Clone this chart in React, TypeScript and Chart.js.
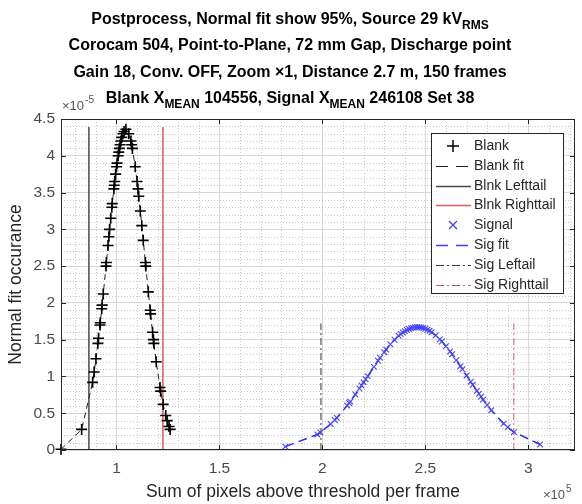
import React, { useEffect, useRef } from "react";
import { Chart, registerables } from "chart.js";

Chart.register(...registerables);

// ---- Data (x in units of 1e5 pixels, y in units of 1e-5) ----
const blankX = [
  0.7305, 0.8308, 0.884, 0.8915, 0.9003, 0.9097, 0.9126, 0.9199, 0.9212, 0.9283,
  0.9302, 0.9357, 0.9491, 0.9508, 0.9588, 0.963, 0.9665, 0.9719, 0.9774, 0.9793,
  0.9871, 0.9892, 0.9913, 0.9956, 1.0003, 1.0027, 1.008, 1.0109, 1.014, 1.0175,
  1.0213, 1.0258, 1.0317, 1.0368, 1.0456, 1.0595, 1.0699, 1.0737, 1.0772, 1.0909,
  1.0999, 1.1041, 1.108, 1.1156, 1.1229, 1.1299, 1.1404, 1.1421, 1.1545, 1.1636,
  1.1655, 1.1753, 1.1794, 1.1815, 1.1928, 1.2113, 1.2144, 1.2266, 1.2391, 1.2459,
  1.2551, 1.2604,
];
const blankY = [
  0.01, 0.28, 0.92, 1.06, 1.24, 1.45, 1.52, 1.7, 1.73, 1.92,
  1.97, 2.12, 2.5, 2.55, 2.78, 2.9, 3.0, 3.15, 3.3, 3.35,
  3.55, 3.6, 3.65, 3.75, 3.85, 3.9, 4.0, 4.05, 4.1, 4.15,
  4.2, 4.25, 4.3, 4.33, 4.36, 4.3, 4.2, 4.15, 4.1, 3.85,
  3.65, 3.55, 3.45, 3.25, 3.05, 2.85, 2.55, 2.5, 2.15, 1.9,
  1.85, 1.6, 1.5, 1.45, 1.2, 0.85, 0.8, 0.62, 0.47, 0.4,
  0.32, 0.28,
];
const signalX = [
  1.82, 1.975, 1.99, 2.04, 2.06, 2.07, 2.12, 2.13, 2.135, 2.16,
  2.18, 2.19, 2.2, 2.21, 2.22, 2.25, 2.27, 2.28, 2.3, 2.31,
  2.33, 2.35, 2.37, 2.38, 2.39, 2.4, 2.41, 2.42, 2.43, 2.44,
  2.45, 2.46, 2.47, 2.48, 2.49, 2.5, 2.51, 2.52, 2.53, 2.55,
  2.57, 2.58, 2.6, 2.62, 2.63, 2.65, 2.67, 2.68, 2.7, 2.72,
  2.73, 2.75, 2.76, 2.77, 2.78, 2.8, 2.82, 2.88, 2.9, 2.93,
  3.057,
];
const signalY = [
  0.046, 0.211, 0.239, 0.353, 0.408, 0.437, 0.603, 0.639, 0.658, 0.755,
  0.836, 0.877, 0.919, 0.961, 1.004, 1.13, 1.213, 1.253, 1.33, 1.367,
  1.437, 1.499, 1.553, 1.577, 1.598, 1.616, 1.632, 1.646, 1.656, 1.664,
  1.668, 1.67, 1.669, 1.665, 1.658, 1.648, 1.635, 1.62, 1.602, 1.558,
  1.505, 1.475, 1.41, 1.339, 1.301, 1.222, 1.139, 1.098, 1.013, 0.928,
  0.886, 0.804, 0.764, 0.724, 0.685, 0.611, 0.54, 0.359, 0.309, 0.243,
  0.075,
];
const blankTails = [0.866, 1.2253];
const blankTailTop = 4.39;
const sigTails = [1.9929, 2.9293];
const sigTailTop = 1.72;

const xRange = [0.7305, 3.226];
const yRange = [0, 4.5];
const xTicks = [1, 1.5, 2, 2.5, 3];
const yTicks = [0, 0.5, 1, 1.5, 2, 2.5, 3, 3.5, 4, 4.5];

const legendLabels = [
  "Blank", "Blank fit", "Blnk Lefttail", "Blnk Righttail",
  "Signal", "Sig fit", "Sig Leftail", "Sig Righttail",
];

const titleLines: { t: string; sub?: boolean }[][] = [
  [{ t: "Postprocess, Normal fit show 95%, Source 29 kV" }, { t: "RMS", sub: true }],
  [{ t: "Corocam 504, Point-to-Plane, 72 mm Gap, Discharge point" }],
  [{ t: "Gain 18, Conv. OFF, Zoom \u00d71, Distance 2.7 m, 150 frames" }],
  [
    { t: "Blank X" }, { t: "MEAN", sub: true }, { t: " 104556, Signal X" },
    { t: "MEAN", sub: true }, { t: " 246108 Set 38" },
  ],
];
const xLabel = "Sum of pixels above threshold per frame";
const yLabel = "Normal fit occurance";

const FONT = "'Liberation Sans', Arial, Helvetica, sans-serif";
const AXIS = "#262626";

const pts = (xs: number[], ys: number[]) => xs.map((x, i) => ({ x, y: ys[i] }));
const vline = (x: number, top: number) => [{ x, y: 0 }, { x, y: top }];

// legend sample styles
const legendStyles = [
  { kind: "plus", color: "#000000", dash: [] as number[], width: 1.5 },
  { kind: "line", color: "#222222", dash: [12, 8], width: 1.2 },
  { kind: "line", color: "#4a4a4a", dash: [], width: 1.5 },
  { kind: "line", color: "#e0585c", dash: [], width: 1.5 },
  { kind: "x", color: "#3c3cf0", dash: [], width: 1.2 },
  { kind: "line", color: "#3c3cf0", dash: [12, 8], width: 1.5 },
  { kind: "line", color: "#333333", dash: [8, 3, 2, 3], width: 1.2 },
  { kind: "line", color: "#d0606a", dash: [8, 3, 2, 3], width: 1.2 },
];

const decor = {
  id: "decor",
  beforeDatasetsDraw(chart: any) {
    const { ctx, chartArea: a, scales } = chart;
    const xs = scales.x, ys = scales.y;
    ctx.save();
    ctx.beginPath();
    ctx.rect(a.left, a.top, a.right - a.left, a.bottom - a.top);
    ctx.clip();
    ctx.strokeStyle = "#c8c8c8";
    ctx.lineWidth = 1;
    ctx.setLineDash([1, 2]);
    for (let k = Math.ceil(xRange[0] * 10); k <= Math.floor(xRange[1] * 10); k++) {
      if (k % 5 === 0) continue;
      const px = Math.round(xs.getPixelForValue(k / 10)) + 0.5;
      ctx.beginPath(); ctx.moveTo(px, a.top); ctx.lineTo(px, a.bottom); ctx.stroke();
    }
    for (let k = 1; k < 45; k++) {
      if (k % 5 === 0) continue;
      const py = Math.round(ys.getPixelForValue(k / 10)) + 0.5;
      ctx.beginPath(); ctx.moveTo(a.left, py); ctx.lineTo(a.right, py); ctx.stroke();
    }
    ctx.restore();
  },
  afterDraw(chart: any) {
    const { ctx, chartArea: a, scales } = chart;
    const xs = scales.x, ys = scales.y;
    ctx.save();
    // axes box
    ctx.strokeStyle = AXIS;
    ctx.lineWidth = 1;
    ctx.setLineDash([]);
    ctx.strokeRect(Math.round(a.left) + 0.5, Math.round(a.top) + 0.5,
      Math.round(a.right - a.left) - 1, Math.round(a.bottom - a.top) - 1);
    // inward ticks
    const tl = 5;
    ctx.beginPath();
    xTicks.forEach((v) => {
      const px = Math.round(xs.getPixelForValue(v)) + 0.5;
      ctx.moveTo(px, a.bottom); ctx.lineTo(px, a.bottom - tl);
      ctx.moveTo(px, a.top); ctx.lineTo(px, a.top + tl);
    });
    yTicks.forEach((v) => {
      const py = Math.round(ys.getPixelForValue(v)) + 0.5;
      ctx.moveTo(a.left, py); ctx.lineTo(a.left + tl, py);
      ctx.moveTo(a.right, py); ctx.lineTo(a.right - tl, py);
    });
    ctx.stroke();

    // legend
    const lx = 431, ly = 133, lw = 132, lh = 160;
    ctx.fillStyle = "#ffffff";
    ctx.fillRect(lx, ly, lw, lh);
    ctx.strokeStyle = AXIS;
    ctx.strokeRect(lx + 0.5, ly + 0.5, lw, lh);
    ctx.font = `14px ${FONT}`;
    ctx.textBaseline = "middle";
    ctx.textAlign = "left";
    legendLabels.forEach((lab, i) => {
      const cy = Math.round(ly + 13 + i * 19.8);
      const st = legendStyles[i];
      ctx.strokeStyle = st.color;
      ctx.lineWidth = st.width;
      if (st.kind === "plus") {
        ctx.setLineDash([]);
        ctx.beginPath();
        ctx.moveTo(447, cy); ctx.lineTo(459, cy);
        ctx.moveTo(453, cy - 6); ctx.lineTo(453, cy + 6);
        ctx.stroke();
      } else if (st.kind === "x") {
        ctx.setLineDash([]);
        ctx.beginPath();
        ctx.moveTo(449, cy - 4); ctx.lineTo(457, cy + 4);
        ctx.moveTo(457, cy - 4); ctx.lineTo(449, cy + 4);
        ctx.stroke();
      } else {
        ctx.setLineDash(st.dash);
        ctx.beginPath();
        ctx.moveTo(436, cy + 0.5); ctx.lineTo(471, cy + 0.5);
        ctx.stroke();
      }
      ctx.setLineDash([]);
      ctx.fillStyle = AXIS;
      ctx.fillText(lab, 474, cy);
    });

    // title
    ctx.fillStyle = "#000000";
    ctx.textBaseline = "alphabetic";
    const mainF = `bold 16px ${FONT}`, subF = `bold 12px ${FONT}`;
    const cx = 290;
    titleLines.forEach((segs, i) => {
      const base = 24 + i * 26.3;
      let w = 0;
      segs.forEach((s) => { ctx.font = s.sub ? subF : mainF; w += ctx.measureText(s.t).width; });
      let x = cx - w / 2;
      segs.forEach((s) => {
        ctx.font = s.sub ? subF : mainF;
        ctx.fillText(s.t, x, s.sub ? base + 5 : base);
        x += ctx.measureText(s.t).width;
      });
    });

    // exponent labels
    ctx.fillStyle = "#555555";
    ctx.font = `13px ${FONT}`;
    ctx.fillText("\u00d710", 62, 110);
    let ew = ctx.measureText("\u00d710").width;
    ctx.font = `10px ${FONT}`;
    ctx.fillText("-5", 62 + ew + 1, 103);
    ctx.font = `13px ${FONT}`;
    ctx.fillText("\u00d710", 543, 499);
    ew = ctx.measureText("\u00d710").width;
    ctx.font = `10px ${FONT}`;
    ctx.fillText("5", 543 + ew + 1, 492);

    // axis titles
    ctx.fillStyle = AXIS;
    ctx.font = `17.5px ${FONT}`;
    ctx.textAlign = "center";
    ctx.textBaseline = "middle";
    ctx.fillText(xLabel, 303, 492);
    ctx.save();
    ctx.translate(16, (a.top + a.bottom) / 2);
    ctx.rotate(-Math.PI / 2);
    ctx.fillText(yLabel, 0, 0);
    ctx.restore();
    ctx.restore();
  },
};

export default function App() {
  const ref = useRef<HTMLCanvasElement>(null);
  useEffect(() => {
    document.body.style.margin = "0";
    const canvas = ref.current!;
    const chart = new Chart(canvas, {
      type: "scatter",
      data: {
        datasets: [
          {
            label: legendLabels[0], data: pts(blankX, blankY), showLine: false,
            pointStyle: "cross", pointRadius: 5.5, borderColor: "#000000", borderWidth: 1.6,
            backgroundColor: "#000000", clip: false as any,
          },
          {
            label: legendLabels[1], data: pts(blankX, blankY), showLine: true,
            pointRadius: 0, borderColor: "#222222", borderWidth: 1, borderDash: [6, 4],
          },
          {
            label: legendLabels[2], data: vline(blankTails[0], blankTailTop), showLine: true,
            pointRadius: 0, borderColor: "#4a4a4a", borderWidth: 1.5,
          },
          {
            label: legendLabels[3], data: vline(blankTails[1], blankTailTop), showLine: true,
            pointRadius: 0, borderColor: "#e0585c", borderWidth: 1.5,
          },
          {
            label: legendLabels[4], data: pts(signalX, signalY), showLine: false,
            pointStyle: "crossRot", pointRadius: 4, borderColor: "#4545f5", borderWidth: 1.1,
            backgroundColor: "#4545f5", clip: false as any,
          },
          {
            label: legendLabels[5], data: pts(signalX, signalY), showLine: true,
            pointRadius: 0, borderColor: "#2a2af5", borderWidth: 1.5, borderDash: [9, 5],
          },
          {
            label: legendLabels[6], data: vline(sigTails[0], sigTailTop), showLine: true,
            pointRadius: 0, borderColor: "#333333", borderWidth: 1, borderDash: [7, 3, 2, 3],
          },
          {
            label: legendLabels[7], data: vline(sigTails[1], sigTailTop), showLine: true,
            pointRadius: 0, borderColor: "#d0606a", borderWidth: 1, borderDash: [7, 3, 2, 3],
          },
        ],
      },
      options: {
        animation: false,
        responsive: false,
        maintainAspectRatio: false,
        events: [],
        layout: { padding: { top: 119, right: 5, left: 0, bottom: 0 } },
        plugins: { legend: { display: false }, title: { display: false }, tooltip: { enabled: false } },
        scales: {
          x: {
            type: "linear", min: xRange[0], max: xRange[1],
            afterBuildTicks: (s: any) => { s.ticks = xTicks.map((v) => ({ value: v })); },
            afterFit: (s: any) => { s.height = 54; },
            grid: { color: "#d8d8d8", drawTicks: false, lineWidth: 1 },
            border: { display: false },
            ticks: {
              autoSkip: false, maxRotation: 0, padding: 9, color: "#4a4a4a",
              font: { family: FONT, size: 15.5 }, callback: (v: any) => String(v),
            },
          },
          y: {
            type: "linear", min: yRange[0], max: yRange[1],
            afterBuildTicks: (s: any) => { s.ticks = yTicks.map((v) => ({ value: v })); },
            afterFit: (s: any) => { s.width = 61; },
            grid: { color: "#d8d8d8", drawTicks: false, lineWidth: 1 },
            border: { display: false },
            ticks: {
              autoSkip: false, padding: 6, color: "#4a4a4a",
              font: { family: FONT, size: 15.5 }, callback: (v: any) => String(v),
            },
          },
        },
      },
      plugins: [decor],
    });
    return () => chart.destroy();
  }, []);
  return (
    <div style={{ position: "relative", width: 582, height: 504, background: "#ffffff" }}>
      <canvas ref={ref} width={582} height={504} style={{ width: 582, height: 504, display: "block" }} />
    </div>
  );
}
